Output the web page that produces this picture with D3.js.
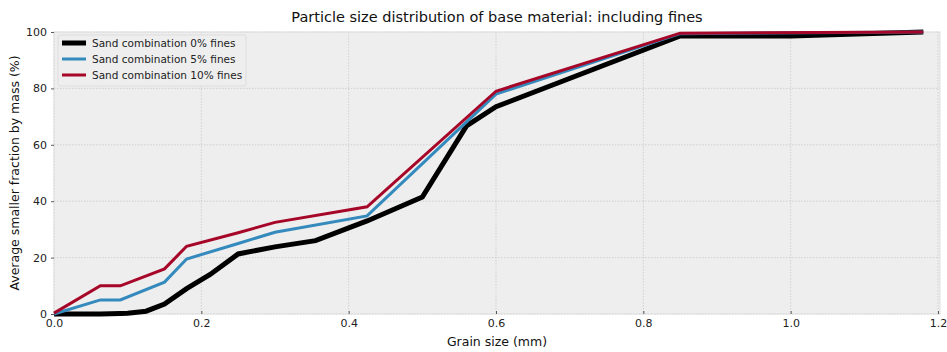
<!DOCTYPE html>
<html>
<head>
<meta charset="utf-8">
<script src="https://cdn.jsdelivr.net/npm/d3@7"></script>
<style>
  html, body { margin: 0; padding: 0; background: #ffffff; }
  svg { display: block; font-family: "DejaVu Sans", sans-serif; }
</style>
</head>
<body>
<svg id="chart" width="947" height="352"></svg>
<script>
// Sieve sizes (mm) and cumulative passing (%) for each sand combination
const sizes0 = [0, 0.063, 0.09, 0.1, 0.125, 0.15, 0.18, 0.212, 0.25, 0.3, 0.355, 0.425, 0.5, 0.56, 0.6, 0.85, 1.0, 1.18];
const passing0 = [0, 0, 0.2, 0.3, 1, 3.5, 9, 14, 21.3, 23.8, 26, 33, 41.5, 66.7, 73.5, 98.6, 98.6, 100];

const sizes5 = [0, 0.063, 0.09, 0.15, 0.18, 0.25, 0.3, 0.425, 0.6, 0.85, 1.18];
const passing5 = [0, 5, 5, 11.3, 19.5, 25, 29, 34.8, 78, 99.4, 100];

const sizes10 = [0, 0.063, 0.09, 0.15, 0.18, 0.25, 0.3, 0.425, 0.6, 0.85, 1.18];
const passing10 = [0.3, 10, 10, 16, 24, 28.8, 32.5, 38, 79, 99.6, 100];

const seriesNames = ["Sand combination 0% fines", "Sand combination 5% fines", "Sand combination 10% fines"];
const seriesColors = ["#000000", "#348ABD", "#A60628"];
const seriesWidths = [5, 3, 3];

const xTicks = [0, 0.2, 0.4, 0.6, 0.8, 1.0, 1.2];
const yTicks = [0, 20, 40, 60, 80, 100];

const titleText = "Particle size distribution of base material: including fines";
const xLabel = "Grain size (mm)";
const yLabel = "Average smaller fraction by mass (%)";

const svg = d3.select("#chart");
const m = { left: 54, right: 7, top: 32, bottom: 38 };
const W = 947, H = 352;
const x = d3.scaleLinear().domain([0, 1.2]).range([m.left, 938]);
const y = d3.scaleLinear().domain([0, 100]).range([H - m.bottom, m.top]);

// plot background
svg.append("rect")
  .attr("x", m.left).attr("y", m.top)
  .attr("width", W - m.left - m.right).attr("height", H - m.top - m.bottom)
  .attr("fill", "#eeeeee");

// grid lines
const grid = svg.append("g");
grid.selectAll("line.gx").data(xTicks).join("line")
  .attr("x1", d => x(d)).attr("x2", d => x(d))
  .attr("y1", m.top).attr("y2", H - m.bottom)
  .attr("stroke", "#c8c8c8").attr("stroke-width", 0.8).attr("stroke-dasharray", "1.5,1.5");
grid.selectAll("line.gy").data(yTicks).join("line")
  .attr("y1", d => y(d)).attr("y2", d => y(d))
  .attr("x1", m.left).attr("x2", W - m.right)
  .attr("stroke", "#c8c8c8").attr("stroke-width", 0.8).attr("stroke-dasharray", "1.5,1.5");

// frame
svg.append("rect")
  .attr("x", m.left).attr("y", m.top)
  .attr("width", W - m.left - m.right).attr("height", H - m.top - m.bottom)
  .attr("fill", "none").attr("stroke", "#e0e0e0").attr("stroke-width", 1);

// axes
const xAxis = d3.axisBottom(x).tickValues(xTicks).tickFormat(d3.format(".1f")).tickSize(-3).tickPadding(5);
const gx = svg.append("g").attr("transform", `translate(0,${H - m.bottom})`).call(xAxis);
const yAxis = d3.axisLeft(y).tickValues(yTicks).tickFormat(d3.format("d")).tickSize(3).tickPadding(4);
const gy = svg.append("g").attr("transform", `translate(${m.left},0)`).call(yAxis);
[gx, gy].forEach(g => {
  g.select(".domain").remove();
  g.selectAll(".tick line").attr("stroke", "#333").attr("stroke-width", 0.8);
  g.selectAll(".tick text").attr("fill", "#222").style("font-size", "11px")
    .style("font-family", "DejaVu Sans, sans-serif");
});

// lines
const series = [
  { xs: sizes0, ys: passing0 },
  { xs: sizes5, ys: passing5 },
  { xs: sizes10, ys: passing10 }
];
const line = d3.line().x(d => x(d[0])).y(d => y(d[1]));
series.forEach((s, i) => {
  svg.append("path")
    .datum(s.xs.map((v, k) => [v, s.ys[k]]))
    .attr("d", line)
    .attr("fill", "none")
    .attr("stroke", seriesColors[i])
    .attr("stroke-width", seriesWidths[i])
    .attr("stroke-linejoin", "miter")
    .attr("stroke-linecap", "butt");
});

// title and axis labels
svg.append("text").attr("x", (m.left + W - m.right) / 2).attr("y", 22)
  .attr("text-anchor", "middle").style("font-size", "14.5px").attr("fill", "#111")
  .text(titleText);
svg.append("text").attr("x", (m.left + W - m.right) / 2).attr("y", 346)
  .attr("text-anchor", "middle").style("font-size", "12.5px").attr("fill", "#111")
  .text(xLabel);
svg.append("text")
  .attr("transform", `translate(19,${(m.top + H - m.bottom) / 2}) rotate(-90)`)
  .attr("text-anchor", "middle").style("font-size", "12.5px").attr("fill", "#111")
  .text(yLabel);

// legend
const lg = svg.append("g").attr("transform", "translate(58,35)");
lg.append("rect").attr("width", 188).attr("height", 51).attr("rx", 2)
  .attr("fill", "#eeeeee").attr("stroke", "#dddddd").attr("stroke-width", 1);
seriesNames.forEach((name, i) => {
  const yy = 8 + i * 16;
  lg.append("line").attr("x1", 4).attr("x2", 28).attr("y1", yy).attr("y2", yy)
    .attr("stroke", seriesColors[i]).attr("stroke-width", seriesWidths[i]);
  lg.append("text").attr("x", 34).attr("y", yy + 4)
    .style("font-size", "10.5px").attr("fill", "#222").text(name);
});
</script>
</body>
</html>
